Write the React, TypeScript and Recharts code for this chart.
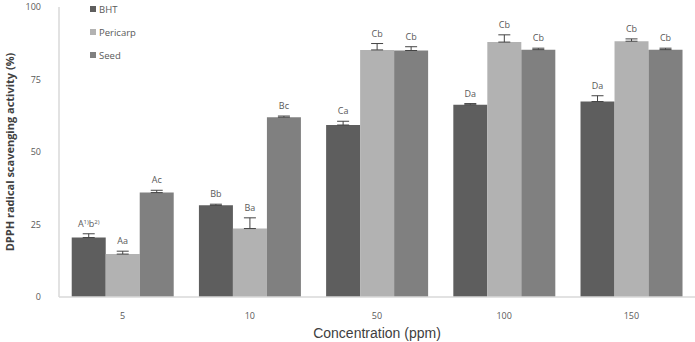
import React from 'react';
import { BarChart, Bar, XAxis, YAxis, ErrorBar, LabelList } from 'recharts';

const categories = ['5', '10', '50', '100', '150'];
const bht = [20.5, 31.6, 59.3, 66.3, 67.4];
const bhtErr = [1.3, 0.4, 1.3, 0.4, 2.0];
const pericarp = [14.8, 23.6, 85.2, 87.9, 88.2];
const pericarpErr = [1.0, 3.7, 2.2, 2.5, 0.8];
const seed = [36.0, 62.0, 85.0, 85.3, 85.3];
const seedErr = [0.8, 0.4, 1.3, 0.5, 0.5];
const bhtLabels = ['A1)b2)', 'Bb', 'Ca', 'Da', 'Da'];
const pericarpLabels = ['Aa', 'Ba', 'Cb', 'Cb', 'Cb'];
const seedLabels = ['Ac', 'Bc', 'Cb', 'Cb', 'Cb'];
const seriesNames = ['BHT', 'Pericarp', 'Seed'];
const yTicks = [0, 25, 50, 75, 100];

const W = 695;
const H = 342;
const MARGIN = { top: 7, right: 0, bottom: 0, left: 0 };
const X_AXIS_H = 45;
const PLOT_H = H - MARGIN.top - MARGIN.bottom - X_AXIS_H;

const COLOR_LIST = ['#5e5e5e', '#b2b2b2', '#808080'];

const data = categories.map((c, i) => ({
  cat: c,
  bht: bht[i],
  bhtErr: [0, bhtErr[i]],
  pericarp: pericarp[i],
  pericarpErr: [0, pericarpErr[i]],
  seed: seed[i],
  seedErr: [0, seedErr[i]],
}));

const FONT = '"Open Sans", "Liberation Sans", sans-serif';

function renderLabelText(s: string) {
  const parts = s.split(/(\d\))/).filter((p) => p.length > 0);
  let sup = false;
  return parts.map((p, k) => {
    const isSup = /\d\)/.test(p);
    const dy = isSup && !sup ? -3 : !isSup && sup ? 3 : 0;
    sup = isSup;
    return (
      <tspan key={k} dy={dy} fontSize={isSup ? 6 : 9}>
        {p}
      </tspan>
    );
  });
}

const makeLabel = (labels: string[], errs: number[]) => (props: any) => {
  const { x, y, width, index } = props;
  const errPx = (errs[index] / 100) * PLOT_H;
  const cx = x + width / 2;
  const ty = y - errPx - 7;
  return (
    <text x={cx} y={ty} textAnchor="middle" fill="#595959" fontSize={9} fontFamily={FONT}>
      {renderLabelText(labels[index])}
    </text>
  );
};

const XTitle = (props: any) => {
  const { viewBox } = props;
  return (
    <text
      x={viewBox.x + viewBox.width / 2}
      y={viewBox.y + 41}
      textAnchor="middle"
      fill="#404040"
      fontSize={14}
      fontFamily='"Liberation Sans", sans-serif'
    >
      Concentration  (ppm)
    </text>
  );
};

const YTitle = (props: any) => {
  const { viewBox } = props;
  const cx = 9;
  const cy = viewBox.y + viewBox.height / 2;
  return (
    <text
      x={cx}
      y={cy}
      transform={`rotate(-90 ${cx} ${cy})`}
      textAnchor="middle"
      dominantBaseline="central"
      fill="#404040"
      fontSize={11}
      fontWeight="bold"
      fontFamily={FONT}
    >
      DPPH  radical scavenging activity (%)
    </text>
  );
};

export default function App() {
  return (
    <div style={{ position: 'absolute', left: 0, top: 0, width: W, height: H, background: '#fff' }}>
      <BarChart width={W} height={H} data={data} margin={MARGIN} barCategoryGap="10%" barGap={0}>
        <XAxis
          dataKey="cat"
          height={X_AXIS_H}
          axisLine={{ stroke: '#d9d9d9', strokeWidth: 1.5 }}
          tickLine={false}
          tick={{ fill: '#595959', fontSize: 9, fontFamily: FONT }}
          tickMargin={10}
          label={<XTitle />}
        />
        <YAxis
          width={59}
          domain={[0, 100]}
          ticks={yTicks}
          axisLine={{ stroke: '#d9d9d9', strokeWidth: 1.5 }}
          tickLine={false}
          tick={{ fill: '#595959', fontSize: 9, fontFamily: FONT }}
          tickMargin={12}
          label={<YTitle />}
        />
        <Bar dataKey="bht" name={seriesNames[0]} fill={COLOR_LIST[0]} isAnimationActive={false}>
          <ErrorBar dataKey="bhtErr" width={6} stroke="#444" strokeWidth={1} direction="y" />
          <LabelList dataKey="bht" content={makeLabel(bhtLabels, bhtErr)} />
        </Bar>
        <Bar dataKey="pericarp" name={seriesNames[1]} fill={COLOR_LIST[1]} isAnimationActive={false}>
          <ErrorBar dataKey="pericarpErr" width={6} stroke="#444" strokeWidth={1} direction="y" />
          <LabelList dataKey="pericarp" content={makeLabel(pericarpLabels, pericarpErr)} />
        </Bar>
        <Bar dataKey="seed" name={seriesNames[2]} fill={COLOR_LIST[2]} isAnimationActive={false}>
          <ErrorBar dataKey="seedErr" width={6} stroke="#444" strokeWidth={1} direction="y" />
          <LabelList dataKey="seed" content={makeLabel(seedLabels, seedErr)} />
        </Bar>
      </BarChart>
      <svg width={80} height={66} style={{ position: 'absolute', left: 88, top: 0 }}>
        {seriesNames.map((name, i) => (
          <g key={name}>
            <rect x={2} y={6 + i * 23} width={6} height={6} fill={COLOR_LIST[i]} />
            <text x={11} y={12.5 + i * 23} fontSize={9.5} fill="#595959" fontFamily={FONT}>
              {name}
            </text>
          </g>
        ))}
      </svg>
    </div>
  );
}
